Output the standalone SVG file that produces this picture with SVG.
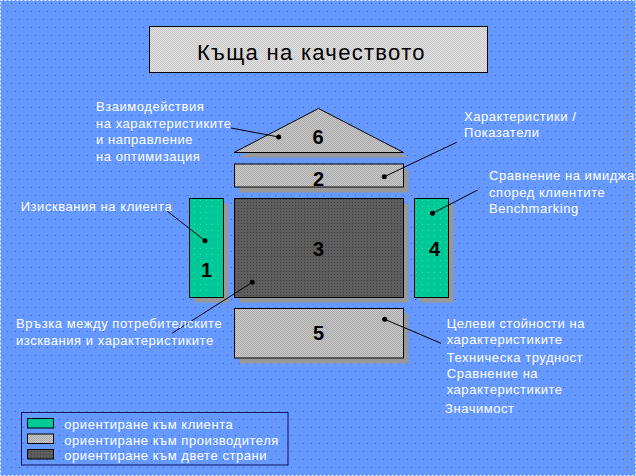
<svg xmlns="http://www.w3.org/2000/svg" width="636" height="476" viewBox="0 0 636 476">
<defs>
<pattern id="bg" width="8" height="16" patternUnits="userSpaceOnUse">
<rect width="8" height="16" fill="#6699FF"/>
<rect x="3" y="3" width="1" height="1" fill="#3A5FC8"/>
<rect x="7" y="11" width="1" height="1" fill="#3A5FC8"/>
</pattern>
<pattern id="lg" width="2" height="2" patternUnits="userSpaceOnUse">
<rect width="2" height="2" fill="#CACACA"/>
<rect width="1" height="1" fill="#A8A8A8"/>
<rect x="1" y="1" width="1" height="1" fill="#A8A8A8"/>
</pattern>
<pattern id="tl" width="2" height="2" patternUnits="userSpaceOnUse">
<rect width="2" height="2" fill="#E4E4E4"/>
<rect width="1" height="1" fill="#C4C4C4"/>
<rect x="1" y="1" width="1" height="1" fill="#C4C4C4"/>
</pattern>
<pattern id="dk" width="3" height="3" patternUnits="userSpaceOnUse">
<rect width="3" height="3" fill="#5E5E5E"/>
<rect x="1" y="1" width="1" height="1" fill="#3C3C3C"/>
</pattern>
<pattern id="gr" width="6" height="6" patternUnits="userSpaceOnUse">
<rect width="6" height="6" fill="#00C896"/>
<rect x="2" y="2" width="1" height="1" fill="#40D8B0"/>
</pattern>
<style>
.box{stroke:#000;stroke-width:1}
.sh{fill:#989898}
.num{font-family:"Liberation Sans",Arial,sans-serif;font-size:20px;font-weight:bold;fill:#000;text-anchor:middle}
.lbl{font-family:"Liberation Sans",Arial,sans-serif;font-size:13px;letter-spacing:0.55px;fill:#fff}
.dot{fill:#000}
.ln{stroke:#000;stroke-width:1;fill:none}
</style>
</defs>
<rect width="636" height="476" fill="url(#bg)"/>
<rect x="0.5" y="0.5" width="635" height="475" fill="none" stroke="#fff" stroke-width="1" stroke-dasharray="2 2"/>

<g id="title">
<rect class="box" x="149.5" y="26.5" width="338" height="46" fill="url(#tl)"/>
<text x="197" y="60" font-family="Liberation Sans,Arial,sans-serif" font-size="22" letter-spacing="1.3" fill="#000">Къща на качеството</text>
</g>

<g id="node6">
<polygon class="sh" points="323.5,113.5 239,157.5 408.5,157.5"/>
<polygon class="box" points="318.5,108.5 234,152.5 403.5,152.5" fill="url(#lg)"/>
<text class="num" x="318" y="143.5">6</text>
</g>

<g id="node2">
<rect class="sh" x="239.5" y="169" width="169" height="23.5"/>
<rect class="box" x="234.5" y="164" width="169" height="23" fill="url(#lg)"/>
<text class="num" x="318.5" y="186">2</text>
</g>

<g id="node1">
<rect class="sh" x="194.5" y="203.5" width="34" height="99"/>
<rect class="box" x="189.5" y="198.5" width="34" height="99" fill="url(#gr)"/>
<text class="num" x="206.5" y="276.5">1</text>
</g>

<g id="node3">
<rect class="sh" x="239.5" y="203.5" width="169" height="99"/>
<rect class="box" x="234.5" y="198.5" width="169" height="99" fill="url(#dk)"/>
<text class="num" x="318.5" y="255.5">3</text>
</g>

<g id="node4">
<rect class="sh" x="419.5" y="203.5" width="34" height="99"/>
<rect class="box" x="414.5" y="198.5" width="34" height="99" fill="url(#gr)"/>
<text class="num" x="434.5" y="255.5">4</text>
</g>

<g id="node5">
<rect class="sh" x="239.5" y="313.5" width="169" height="50"/>
<rect class="box" x="234.5" y="308.5" width="169" height="49.5" fill="url(#lg)"/>
<text class="num" x="318.5" y="339.5">5</text>
</g>

<g id="connectors">
<line class="ln" x1="231" y1="128" x2="278.7" y2="137"/>
<line class="ln" x1="384.3" y1="176.7" x2="456.7" y2="142.3"/>
<line class="ln" x1="432.5" y1="213.3" x2="477.7" y2="190"/>
<line class="ln" x1="166.7" y1="210.7" x2="205" y2="240.7"/>
<line class="ln" x1="252.3" y1="282.3" x2="172" y2="333.3"/>
<line class="ln" x1="384.7" y1="319.3" x2="441" y2="343.3"/>
<circle class="dot" cx="278.7" cy="137" r="2.5"/>
<circle class="dot" cx="384.3" cy="176.7" r="2.5"/>
<circle class="dot" cx="432.5" cy="213.3" r="2.5"/>
<circle class="dot" cx="205" cy="240.7" r="2.5"/>
<circle class="dot" cx="252.3" cy="282.3" r="2.5"/>
<circle class="dot" cx="384.7" cy="319.3" r="2.5"/>
</g>

<g id="labels">
<text class="lbl" x="96" y="111.3">Взаимодействия</text>
<text class="lbl" x="96" y="127.8">на характеристиките</text>
<text class="lbl" x="96" y="144.4">и направление</text>
<text class="lbl" x="96" y="161">на оптимизация</text>
<text class="lbl" x="464" y="120.7">Характеристики /</text>
<text class="lbl" x="464" y="136.5">Показатели</text>
<text class="lbl" x="489" y="180">Сравнение на имиджа</text>
<text class="lbl" x="489" y="196.5">според клиентите</text>
<text class="lbl" x="489" y="212.5">Benchmarking</text>
<text class="lbl" x="20.7" y="210.7">Изисквания на клиента</text>
<text class="lbl" x="16" y="328.3">Връзка между потребителските</text>
<text class="lbl" x="16" y="344.5">изсквания и характеристиките</text>
<text class="lbl" x="446.7" y="327.7">Целеви стойности на</text>
<text class="lbl" x="446.7" y="344.3">характеристиките</text>
<text class="lbl" x="446.7" y="361.7">Техническа трудност</text>
<text class="lbl" x="446.7" y="377.9">Сравнение на</text>
<text class="lbl" x="446.7" y="394.3">характеристиките</text>
<text class="lbl" x="445" y="412.7">Значимост</text>
</g>

<g id="legend">
<rect x="21.5" y="412.5" width="266.5" height="52.5" fill="none" stroke="#10105A" stroke-width="1"/>
<rect class="box" x="27.5" y="418.5" width="26" height="9.5" fill="url(#gr)"/>
<rect class="box" x="27.5" y="434" width="26" height="9.5" fill="url(#lg)"/>
<rect class="box" x="27.5" y="449.5" width="26" height="9.5" fill="url(#dk)"/>
<text class="lbl" x="64.3" y="429">ориентиране към клиента</text>
<text class="lbl" x="64.3" y="445">ориентиране към производителя</text>
<text class="lbl" x="64.3" y="460.3">ориентиране към двете страни</text>
</g>
</svg>
